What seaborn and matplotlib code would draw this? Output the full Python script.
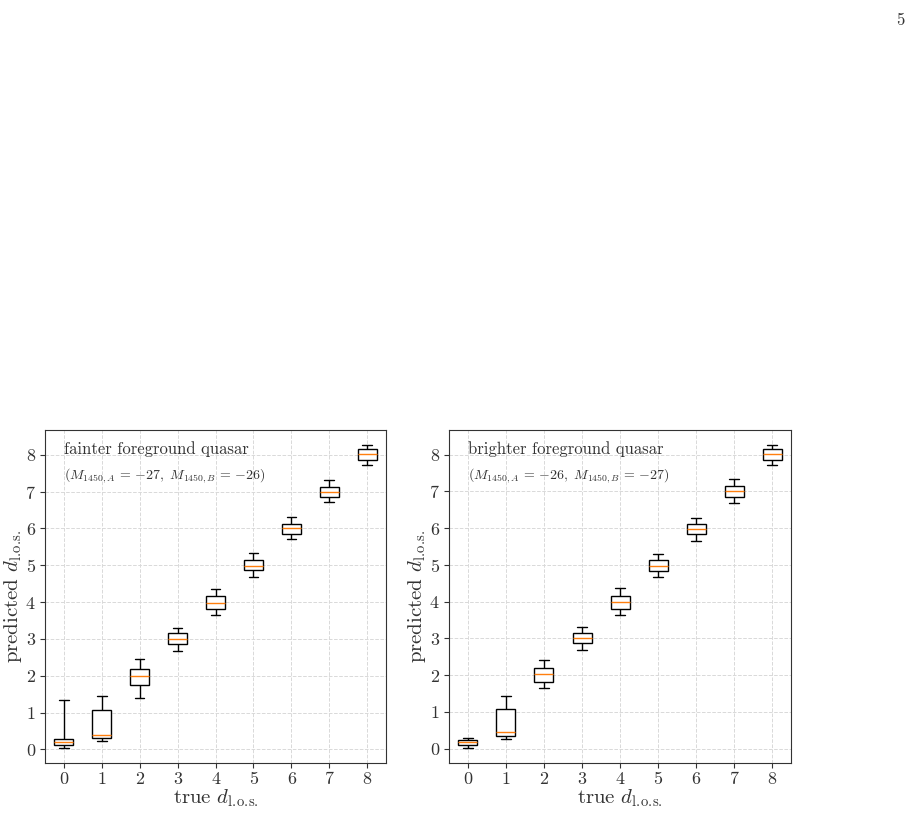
import pandas as pd
import matplotlib.pyplot as plt
import seaborn as sns

sns.set_style("ticks")
plt.rcParams['font.family'] = 'serif'
plt.rcParams['font.serif'] = ['cmr10']
plt.rcParams['mathtext.fontset'] = 'cm'
plt.rcParams['axes.formatter.use_mathtext'] = True
plt.rcParams['text.color'] = '0.2'
plt.rcParams['axes.labelcolor'] = '0.2'
plt.rcParams['xtick.color'] = '0.2'
plt.rcParams['ytick.color'] = '0.2'

# box statistics (true d_l.o.s. = 0..8)
true_d = [0, 1, 2, 3, 4, 5, 6, 7, 8]

# fainter foreground quasar
faint_lo = [0.04, 0.24, 1.39, 2.67, 3.64, 4.69, 5.71, 6.71, 7.71]
faint_q1 = [0.13, 0.30, 1.74, 2.85, 3.80, 4.86, 5.84, 6.85, 7.86]
faint_med = [0.20, 0.40, 2.00, 2.99, 3.98, 4.99, 6.00, 6.98, 8.01]
faint_q3 = [0.27, 1.07, 2.19, 3.15, 4.15, 5.15, 6.13, 7.13, 8.15]
faint_hi = [1.35, 1.46, 2.46, 3.30, 4.36, 5.32, 6.30, 7.30, 8.26]

# brighter foreground quasar
bright_lo = [0.02, 0.25, 1.64, 2.68, 3.65, 4.67, 5.64, 6.69, 7.71]
bright_q1 = [0.09, 0.35, 1.82, 2.87, 3.79, 4.84, 5.84, 6.84, 7.85]
bright_med = [0.17, 0.45, 2.03, 3.02, 3.98, 4.98, 5.99, 7.00, 8.01]
bright_q3 = [0.245, 1.09, 2.19, 3.16, 4.16, 5.12, 6.12, 7.15, 8.15]
bright_hi = [0.29, 1.42, 2.42, 3.31, 4.38, 5.31, 6.28, 7.34, 8.26]

titles = ['fainter foreground quasar', 'brighter foreground quasar']
subtitles = [r'$(M_{1450,A}\,=\,{-27},\ M_{1450,B}\,=\,{-26})$',
             r'$(M_{1450,A}\,=\,{-26},\ M_{1450,B}\,=\,{-27})$']
dlos = r'$d_{\mathrm{l.\!o.\!s.}}$'


def to_frame(lo, q1, med, q3, hi):
    rows = []
    for i, d in enumerate(true_d):
        for v in (lo[i], q1[i], med[i], q3[i], hi[i]):
            rows.append({'true': d, 'pred': v})
    return pd.DataFrame(rows)


panels = [to_frame(faint_lo, faint_q1, faint_med, faint_q3, faint_hi),
          to_frame(bright_lo, bright_q1, bright_med, bright_q3, bright_hi)]

fig = plt.figure(figsize=(9.15, 8.15), dpi=100)
axes = [fig.add_axes([0.0492, 0.0638, 0.3727, 0.4086]),
        fig.add_axes([0.4907, 0.0638, 0.3738, 0.4086])]

for ax, df, t, st in zip(axes, panels, titles, subtitles):
    sns.boxplot(data=df, x='true', y='pred', order=true_d, ax=ax,
                whis=(0, 100), width=0.5, color='white', linecolor='black',
                linewidth=1.0, medianprops={'color': '#ff7f0e'})
    ax.set_axisbelow(True)
    ax.grid(True, which='major', axis='both', linestyle='--',
            color='0.85', linewidth=0.7)
    ax.set_xlabel('true ' + dlos, fontsize=15, labelpad=0)
    ax.set_ylabel('predicted ' + dlos, fontsize=15, labelpad=1)
    ax.tick_params(labelsize=13, pad=3)
    ax.set_yticks(range(0, 9))
    ax.text(0.056, 0.965, t, transform=ax.transAxes, fontsize=12, va='top')
    ax.text(0.056, 0.89, st, transform=ax.transAxes, fontsize=10, va='top')
    for s in ax.spines.values():
        s.set_color('0.2')

fig.text(0.989, 0.985, '5', fontsize=12, ha='right', va='top')

fig.savefig('out.png', dpi=100)
